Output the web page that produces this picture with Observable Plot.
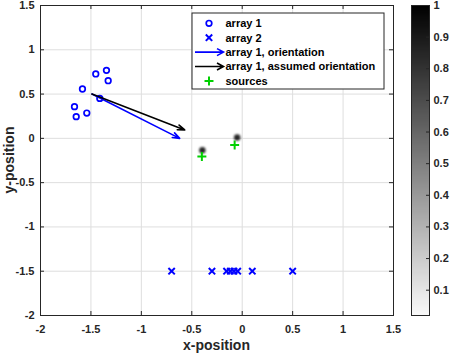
<!DOCTYPE html>
<html><head><meta charset="utf-8">
<script src="https://cdn.jsdelivr.net/npm/d3@7"></script>
<script src="https://cdn.jsdelivr.net/npm/@observablehq/plot@0.6"></script>
<style>
body{margin:0;background:#fff;}
#wrap{position:relative;width:450px;height:355px;font-family:"Liberation Sans",Arial,sans-serif;}
#wrap svg{position:absolute;top:0;overflow:visible;}
</style></head><body><div id="wrap"></div>
<script>
const xTicks = [-2, -1.5, -1, -0.5, 0, 0.5, 1, 1.5];
const yTicks = [-2, -1.5, -1, -0.5, 0, 0.5, 1, 1.5];
const array1X = [-1.663, -1.646, -1.541, -1.584, -1.452, -1.346, -1.329, -1.412];
const array1Y = [0.358, 0.245, 0.286, 0.557, 0.727, 0.768, 0.651, 0.451];
const array2X = [-0.7, -0.3, -0.155, -0.118, -0.082, -0.045, 0.1, 0.5];
const array2Y = [-1.5, -1.5, -1.5, -1.5, -1.5, -1.5, -1.5, -1.5];
const sourceX = [-0.4, -0.075];
const sourceY = [-0.205, -0.075];
const peakX = [-0.395, -0.05];
const peakY = [-0.135, 0.01];
const arrowStartX = [-1.49, -1.49];
const arrowStartY = [0.5, 0.5];
const arrowEndX = [-0.62, -0.57];
const arrowEndY = [0.0, 0.095];
const arrowColors = ["#0000ff", "#000000"];
const cbTicks = [0.1, 0.2, 0.3, 0.4, 0.5, 0.6, 0.7, 0.8, 0.9, 1];
const cbDomain = [0.02, 1];
const legendLabels = ["array 1", "array 2", "array 1, orientation", "array 1, assumed orientation", "sources"];

const array1 = array1X.map((x, i) => ({x, y: array1Y[i]}));
const array2 = array2X.map((x, i) => ({x, y: array2Y[i]}));
const sources = sourceX.map((x, i) => ({x, y: sourceY[i]}));
const peaks = peakX.map((x, i) => ({x, y: peakY[i]}));
const arrows = arrowStartX.map((x1, i) => ({x1, y1: arrowStartY[i], x2: arrowEndX[i], y2: arrowEndY[i], c: arrowColors[i]}));

const W = 400, H = 355, mL = 40, mR = 7, mT = 5, mB = 40;
const iw = W - mL - mR, ih = H - mT - mB;
const tk = 4;
const fmt = d => String(d);
const font = {fontFamily: "Liberation Sans, Arial, sans-serif", fontSize: "11px", fontWeight: "bold", color: "#262626", background: "transparent", overflow: "visible"};

const main = Plot.plot({
  width: W, height: H, marginLeft: mL, marginRight: mR, marginTop: mT, marginBottom: mB,
  style: font,
  x: {domain: [-2, 1.5]},
  y: {domain: [-2, 1.5]},
  marks: [
    Plot.gridX(xTicks, {stroke: "#dedede", strokeOpacity: 1}),
    Plot.gridY(yTicks, {stroke: "#dedede", strokeOpacity: 1}),
    Plot.dot(peaks, {x: "x", y: "y", r: 3.2, fill: "#000", fillOpacity: 0.85}),
    Plot.dot(array1, {x: "x", y: "y", r: 2.8, stroke: "#0000ff", strokeWidth: 1.7, symbol: "circle"}),
    Plot.dot(array2, {x: "x", y: "y", r: 3, stroke: "#0000ff", strokeWidth: 2, symbol: "times"}),
    Plot.arrow(arrows, {x1: "x1", y1: "y1", x2: "x2", y2: "y2", stroke: "c", strokeWidth: 1.6, headLength: 7, headAngle: 40}),
    Plot.dot(sources, {x: "x", y: "y", r: 3, stroke: "#00d000", strokeWidth: 2, symbol: "plus"}),
    Plot.ruleX(xTicks, {x: d => d, insetTop: ih - tk, stroke: "#262626"}),
    Plot.ruleX(xTicks, {x: d => d, insetBottom: ih - tk, stroke: "#262626"}),
    Plot.ruleY(yTicks, {y: d => d, insetRight: iw - tk, stroke: "#262626"}),
    Plot.ruleY(yTicks, {y: d => d, insetLeft: iw - tk, stroke: "#262626"}),
    Plot.frame({stroke: "#262626"}),
    Plot.axisX(xTicks, {tickSize: 0, tickPadding: 10, tickFormat: fmt, label: null, fill: "#262626"}),
    Plot.axisY(yTicks, {tickSize: 0, tickPadding: 6, tickFormat: fmt, label: null, fill: "#262626"})
  ]
});
main.style.left = "0px";
document.getElementById("wrap").appendChild(main);
const dotGroups = main.querySelectorAll('g[aria-label="dot"]');
if (dotGroups[0]) dotGroups[0].style.filter = "blur(1.3px)";

const ms = d3.select(main);
ms.append("text").attr("x", mL + iw / 2).attr("y", 350).attr("text-anchor", "middle")
  .style("font-size", "14px").style("font-weight", "bold").attr("fill", "#262626").text("x-position");
ms.append("text").attr("transform", `translate(14,${mT + ih / 2}) rotate(-90)`).attr("text-anchor", "middle")
  .style("font-size", "14px").style("font-weight", "bold").attr("fill", "#262626").text("y-position");

// legend
const lg = ms.append("g").attr("text-anchor", "start");
const lx = 192, ly = 13, lw = 192, lh = 76, step = 14.4;
lg.append("rect").attr("x", lx).attr("y", ly).attr("width", lw).attr("height", lh).attr("fill", "#fff").attr("stroke", "#262626").attr("stroke-width", 1);
legendLabels.forEach((t, i) => {
  const cy = ly + 10.3 + i * step;
  lg.append("text").attr("x", 225.5).attr("y", cy).attr("dy", "0.35em").attr("text-anchor", "start").attr("fill", "#000").text(t);
  if (i === 0) lg.append("circle").attr("cx", 209).attr("cy", cy).attr("r", 2.8).attr("fill", "none").attr("stroke", "#0000ff").attr("stroke-width", 1.7);
  if (i === 1) lg.append("path").attr("transform", `translate(209,${cy})`).attr("d", d3.symbol(d3.symbolTimes, 28.3)()).attr("fill", "none").attr("stroke", "#0000ff").attr("stroke-width", 2);
  if (i === 4) lg.append("path").attr("transform", `translate(209,${cy})`).attr("d", d3.symbol(d3.symbolPlus, 28.3)()).attr("fill", "none").attr("stroke", "#00d000").attr("stroke-width", 2);
  if (i === 2 || i === 3) {
    const c = i === 2 ? "#0000ff" : "#000";
    lg.append("path").attr("d", `M195,${cy}H223M217,${cy - 3.5}L223.5,${cy}L217,${cy + 3.5}`).attr("fill", "none").attr("stroke", c).attr("stroke-width", 1.6);
  }
});

// colorbar
const cb = Plot.plot({
  width: 50, height: H, marginLeft: 11, marginRight: 21, marginTop: mT, marginBottom: mB,
  style: font,
  x: {domain: [0, 1], axis: null},
  y: {domain: cbDomain, axis: null},
  color: {type: "linear", domain: [0, 1], range: ["#ffffff", "#000000"]},
  marks: [
    Plot.raster({x1: 0, x2: 1, y1: cbDomain[0], y2: cbDomain[1], width: 1, height: 300, fill: (x, y) => y, imageRendering: "auto"}),
    Plot.ruleY(cbTicks, {y: d => d, insetLeft: 15, stroke: "#262626"}),
    Plot.frame({stroke: "#262626"}),
    Plot.axisY(cbTicks, {anchor: "right", tickSize: 0, tickPadding: 4, tickFormat: fmt, label: null, fill: "#262626"})
  ]
});
cb.style.left = "400px";
document.getElementById("wrap").appendChild(cb);
</script></body></html>
